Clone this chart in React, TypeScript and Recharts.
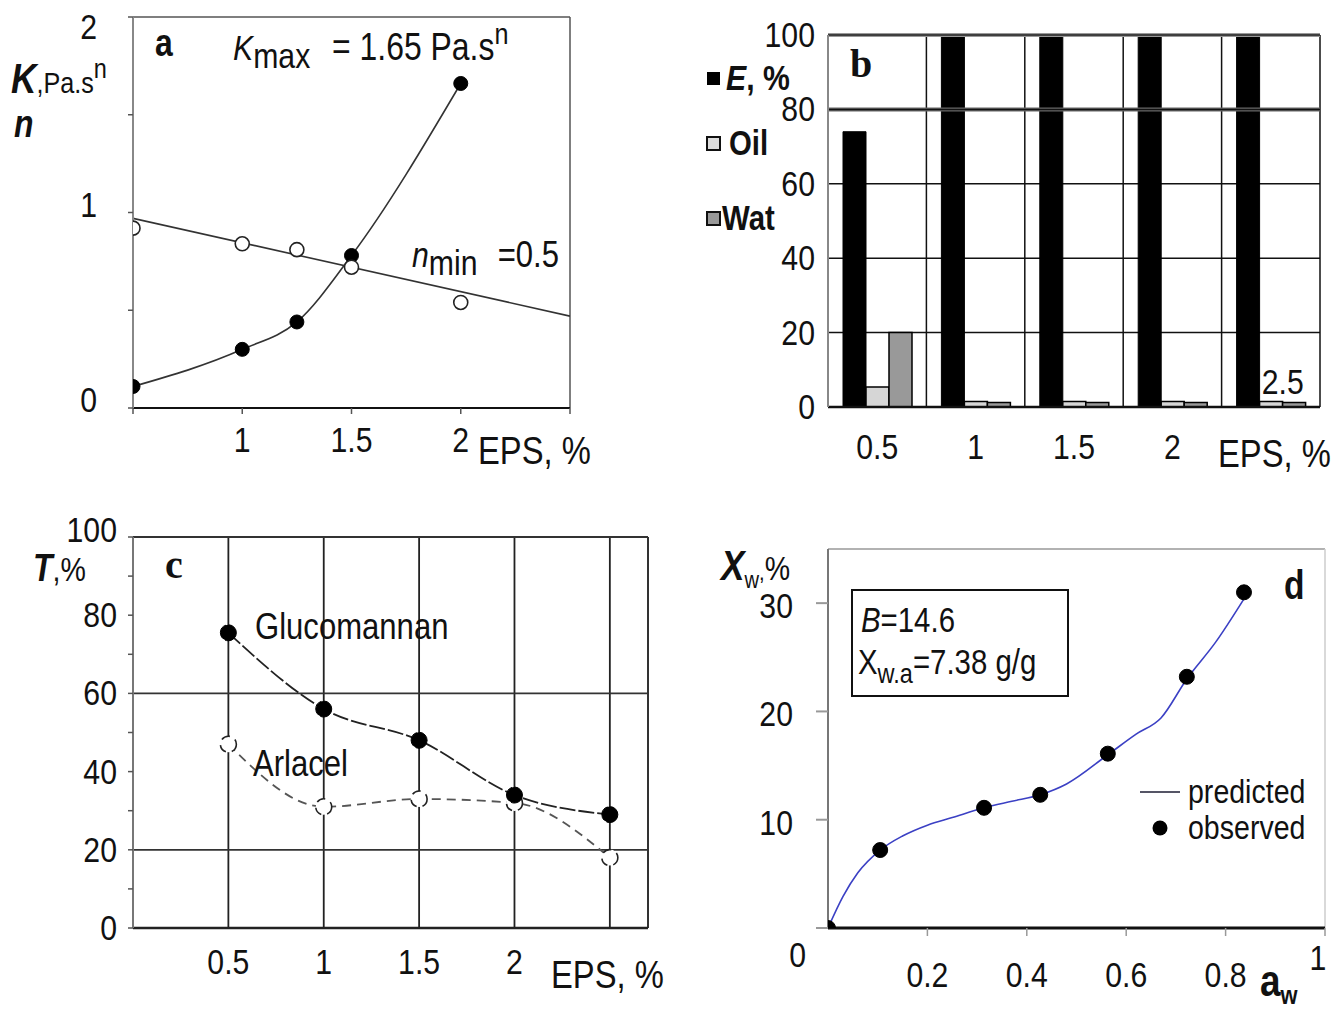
import React from 'react';
import {
  LineChart,
  Line,
  BarChart,
  Bar,
  XAxis,
  YAxis,
  CartesianGrid,
  ReferenceLine,
} from 'recharts';

const FONT = "'Liberation Sans', Arial, sans-serif";
const SERIF = "'Liberation Serif', 'DejaVu Serif', serif";
// the reference uses a narrow face, so text is squeezed horizontally
const SX = 0.84;

// a: consistency index K and flow index n against EPS %
const epsA = [0.5, 1, 1.25, 1.5, 2];
const kValues = [0.11, 0.3, 0.44, 0.78, 1.66];
const nValues = [0.92, 0.84, 0.81, 0.72, 0.54];
const nFitEps = [0.5, 2.5];
const nFitValues = [0.97, 0.47];
const ticksAX = [0.5, 1, 1.5, 2, 2.5];
const ticksAY = [0, 0.5, 1, 1.5, 2];

// b: emulsion stability
const epsB = ['0.5', '1', '1.5', '2', '2.5'];
const eValues = [74, 100, 100, 100, 100];
const oilValues = [5.4, 1.5, 1.5, 1.5, 1.5];
const watValues = [20, 1.2, 1.2, 1.2, 1.2];
const ticksBY = [0, 20, 40, 60, 80, 100];

// c: turbidity, glucomannan vs arlacel
const epsC = [0.5, 1, 1.5, 2, 2.5];
const glucoValues = [75.5, 56, 48, 34, 29];
const arlacelValues = [47, 31, 33, 32, 18];
const ticksCY = [0, 10, 20, 30, 40, 50, 60, 70, 80, 90, 100];

// d: sorption isotherm
const awObserved = [0, 0.105, 0.314, 0.427, 0.563, 0.722, 0.837];
const xwObserved = [0, 7.2, 11.1, 12.3, 16.1, 23.2, 31.0];
const awPredicted = [0, 0.03, 0.06, 0.105, 0.15, 0.2, 0.25, 0.314, 0.37, 0.427, 0.48, 0.563, 0.62, 0.67, 0.722, 0.78, 0.837];
const xwPredicted = [0, 2.9, 5.1, 7.2, 8.5, 9.5, 10.2, 11.1, 11.7, 12.3, 13.3, 16.0, 17.9, 19.4, 23.0, 26.4, 30.4];
const ticksDX = [0.2, 0.4, 0.6, 0.8, 1];
const ticksDY = [0, 10, 20, 30];

const dataKA = epsA.map((x, i) => ({ x, k: kValues[i] }));
const dataNA = epsA.map((x, i) => ({ x, n: nValues[i] }));
const dataFitA = nFitEps.map((x, i) => ({ x, fit: nFitValues[i] }));
const dataB = epsB.map((eps, i) => ({ eps, E: eValues[i], Oil: oilValues[i], Wat: watValues[i] }));
const dataC = epsC.map((x, i) => ({ x, gluco: glucoValues[i], arlacel: arlacelValues[i] }));
const dataObsD = awObserved.map((x, i) => ({ x, obs: xwObserved[i] }));
const dataPredD = awPredicted.map((x, i) => ({ x, pred: xwPredicted[i] }));

const TS = 36;

type TxtProps = {
  x: number;
  y: number;
  anchor?: string;
  size?: number;
  weight?: string;
  italic?: boolean;
  family?: string;
  children?: React.ReactNode;
};

const Txt = ({ x, y, anchor = 'start', size = TS, weight, italic, family, children }: TxtProps) => (
  <text
    transform={`translate(${x} ${y}) scale(${SX} 1)`}
    textAnchor={anchor}
    fontSize={size}
    fontWeight={weight}
    fontStyle={italic ? 'italic' : undefined}
    fontFamily={family || FONT}
    fill="#111"
  >
    {children}
  </text>
);

const label = (x: number, y: number, text: string, anchor: string) => (
  <Txt x={x} y={y} anchor={anchor}>{text}</Txt>
);

// tick renderers
const tickAX = (p: any) => {
  const v = p.payload.value;
  if (v === 0.5 || v === 2.5) return <g />;
  return label(p.x, p.y + 36, String(v), 'middle');
};
const tickAY = (p: any) => {
  const v = p.payload.value;
  if (v % 1 !== 0) return <g />;
  return label(p.x - 29, p.y + (v === 2 ? 22 : 4), String(v), 'end');
};
const tickBX = (p: any) => {
  const v = p.payload.value;
  if (v === '2.5') return label(p.x + 12, p.y - 13, v, 'middle');
  return label(p.x, p.y + 52, v, 'middle');
};
const tickBY = (p: any) => label(p.x - 13, p.y + 12, String(p.payload.value), 'end');
const tickCX = (p: any) => {
  const v = p.payload.value;
  if (v === 2.5) return <g />;
  return label(p.x, p.y + 46, String(v), 'middle');
};
const tickCY = (p: any) => {
  const v = p.payload.value;
  if (v % 20 !== 0) return <g />;
  return label(p.x - 9, p.y + (v === 100 ? 5 : 12), String(v), 'end');
};
const tickDX = (p: any) => {
  const v = p.payload.value;
  if (v === 1) return label(p.x - 7, p.y + 32, '1', 'middle');
  return label(p.x, p.y + 49, String(v), 'middle');
};
const tickDY = (p: any) => {
  const v = p.payload.value;
  if (v === 0) return label(p.x - 8, p.y + 39, '0', 'end');
  return label(p.x - 21, p.y + 15, String(v), 'end');
};

const filledDot = { r: 7, fill: '#000', stroke: '#000', strokeWidth: 1 };
const openDot = { r: 7, fill: '#fff', stroke: '#222', strokeWidth: 1.6 };

function PanelA() {
  return (
    <div style={{ position: 'absolute', left: 0, top: 0 }}>
      <LineChart width={600} height={480} margin={{ top: 17, right: 30, left: 0, bottom: 32 }}>
        <XAxis
          type="number"
          dataKey="x"
          domain={[0.5, 2.5]}
          ticks={ticksAX}
          allowDataOverflow
          height={40}
          axisLine={{ stroke: '#111', strokeWidth: 2 }}
          tickLine={{ stroke: '#555', strokeWidth: 1.5 }}
          tickSize={6}
          tickMargin={2}
          tick={tickAX}
        />
        <YAxis
          type="number"
          domain={[0, 2]}
          ticks={ticksAY}
          allowDataOverflow
          width={133}
          axisLine={{ stroke: '#888', strokeWidth: 2 }}
          tickLine={{ stroke: '#555', strokeWidth: 1.5 }}
          tickSize={5}
          tickMargin={2}
          tick={tickAY}
        />
        <ReferenceLine y={2} stroke="#555" strokeWidth={1.5} />
        <ReferenceLine x={2.5} stroke="#555" strokeWidth={1.5} />
        <Line data={dataFitA} dataKey="fit" type="linear" stroke="#333" strokeWidth={1.6} dot={false} isAnimationActive={false} />
        <Line data={dataKA} dataKey="k" type="monotone" stroke="#333" strokeWidth={1.6} dot={filledDot} isAnimationActive={false} />
        <Line data={dataNA} dataKey="n" stroke="none" dot={openDot} isAnimationActive={false} />
      </LineChart>
    </div>
  );
}

function PanelB() {
  return (
    <div style={{ position: 'absolute', left: 690, top: 0 }}>
      <BarChart
        width={643}
        height={480}
        data={dataB}
        margin={{ top: 35, right: 13, left: 0, bottom: 33 }}
        barGap={0}
        barSize={23}
      >
        <CartesianGrid
          stroke="#111"
          strokeWidth={1.5}
          verticalCoordinatesGenerator={({ offset }: any) =>
            epsB.map((_, i) => offset.left + ((i + 1) * offset.width) / epsB.length)
          }
        />
        <ReferenceLine y={80} stroke="#666" strokeWidth={4} />
        <ReferenceLine y={80} stroke="#111" strokeWidth={1.5} />
        <XAxis
          dataKey="eps"
          height={40}
          axisLine={{ stroke: '#111', strokeWidth: 2.5 }}
          tickLine={false}
          tickSize={0}
          tickMargin={0}
          tick={tickBX}
        />
        <YAxis
          type="number"
          domain={[0, 100]}
          ticks={ticksBY}
          width={138}
          axisLine={{ stroke: '#888', strokeWidth: 2 }}
          tickLine={false}
          tickSize={0}
          tickMargin={0}
          tick={tickBY}
        />
        <Bar dataKey="E" fill="#000" stroke="#000" isAnimationActive={false} />
        <Bar dataKey="Oil" fill="#d6d6d6" stroke="#000" strokeWidth={1.5} isAnimationActive={false} />
        <Bar dataKey="Wat" fill="#999" stroke="#000" strokeWidth={1.5} isAnimationActive={false} />
        <ReferenceLine y={100} stroke="#999" strokeWidth={4} />
        <ReferenceLine y={100} stroke="#222" strokeWidth={1.5} />
      </BarChart>
    </div>
  );
}

function PanelC() {
  return (
    <div style={{ position: 'absolute', left: 0, top: 500 }}>
      <LineChart width={670} height={511} data={dataC} margin={{ top: 37, right: 22, left: 0, bottom: 33 }}>
        <CartesianGrid horizontal={false} stroke="#222" strokeWidth={1.8} />
        <ReferenceLine y={20} stroke="#333" strokeWidth={1.8} />
        <ReferenceLine y={60} stroke="#333" strokeWidth={1.8} />
        <ReferenceLine y={100} stroke="#333" strokeWidth={1.8} />
        <ReferenceLine x={2.7} stroke="#333" strokeWidth={1.8} />
        <XAxis
          type="number"
          dataKey="x"
          domain={[0, 2.7]}
          ticks={epsC}
          allowDataOverflow
          height={50}
          axisLine={{ stroke: '#222', strokeWidth: 2.5 }}
          tickLine={false}
          tickSize={0}
          tickMargin={0}
          tick={tickCX}
        />
        <YAxis
          type="number"
          domain={[0, 100]}
          ticks={ticksCY}
          width={133}
          axisLine={{ stroke: '#777', strokeWidth: 2 }}
          tickLine={{ stroke: '#555', strokeWidth: 1.5 }}
          tickSize={5}
          tickMargin={2}
          tick={tickCY}
        />
        <Line dataKey="arlacel" type="monotone" stroke="#555" strokeWidth={1.8} strokeDasharray="9 6" dot={{ ...openDot, r: 8 }} isAnimationActive={false} />
        <Line dataKey="gluco" type="monotone" stroke="#222" strokeWidth={1.8} strokeDasharray="16 3" dot={{ ...filledDot, r: 8 }} isAnimationActive={false} />
      </LineChart>
    </div>
  );
}

function PanelD() {
  return (
    <div style={{ position: 'absolute', left: 690, top: 520 }}>
      <LineChart width={643} height={491} margin={{ top: 29, right: 8, left: 0, bottom: 33 }}>
        <ReferenceLine y={35} stroke="#999" strokeWidth={1.5} />
        <ReferenceLine x={1} stroke="#ccc" strokeWidth={1.5} />
        <XAxis
          type="number"
          dataKey="x"
          domain={[0, 1]}
          ticks={ticksDX}
          allowDataOverflow
          height={50}
          axisLine={{ stroke: '#111', strokeWidth: 3 }}
          tickLine={{ stroke: '#999', strokeWidth: 1.5 }}
          tickSize={8}
          tickMargin={2}
          tick={tickDX}
        />
        <YAxis
          type="number"
          domain={[0, 35]}
          ticks={ticksDY}
          allowDataOverflow
          width={138}
          axisLine={{ stroke: '#777', strokeWidth: 2 }}
          tickLine={{ stroke: '#999', strokeWidth: 2 }}
          tickSize={12}
          tickMargin={2}
          tick={tickDY}
        />
        <Line data={dataPredD} dataKey="pred" type="monotone" stroke="#3b40c4" strokeWidth={1.6} dot={false} isAnimationActive={false} />
        <Line data={dataObsD} dataKey="obs" stroke="none" dot={{ r: 7.5, fill: '#000', stroke: '#000' }} isAnimationActive={false} />
      </LineChart>
    </div>
  );
}

function Annotations() {
  return (
    <svg width={1333} height={1011} style={{ position: 'absolute', left: 0, top: 0, pointerEvents: 'none' }}>
      {/* panel a */}
      <Txt x={155} y={56} size={38} weight="bold">a</Txt>
      <Txt x={11} y={93} size={30}>
        <tspan fontSize={42} fontWeight="bold" fontStyle="italic">K</tspan>
        <tspan>,Pa.s</tspan>
        <tspan fontSize={28} dy={-15}>n</tspan>
      </Txt>
      <Txt x={14} y={137} size={38} weight="bold" italic>n</Txt>
      <Txt x={233} y={60} size={36}>
        <tspan fontStyle="italic">K</tspan>
        <tspan dy={8}>max</tspan>
        <tspan dx={26} dy={-8} fontSize={38}>= 1.65 Pa.s</tspan>
        <tspan fontSize={30} dy={-16}>n</tspan>
      </Txt>
      <Txt x={412} y={267} size={36}>
        <tspan fontStyle="italic">n</tspan>
        <tspan dy={8}>min</tspan>
        <tspan dx={24} dy={-8} fontSize={37}>=0.5</tspan>
      </Txt>
      <Txt x={478} y={464} size={39}>EPS, %</Txt>

      {/* panel b */}
      <text x={850} y={77} fontSize={40} fontWeight="bold" fontFamily={SERIF} fill="#111">b</text>
      <rect x={707} y={72} width={13} height={13} fill="#000" />
      <Txt x={726} y={90} size={36} weight="bold">
        <tspan fontStyle="italic">E</tspan>, %
      </Txt>
      <rect x={707} y={137} width={13} height={13} fill="#ddd" stroke="#111" strokeWidth={2} />
      <Txt x={729} y={155} size={35} weight="bold">Oil</Txt>
      <rect x={707} y={212} width={13} height={13} fill="#999" stroke="#111" strokeWidth={2} />
      <Txt x={722} y={230} size={35} weight="bold">Wat</Txt>
      <Txt x={1218} y={467} size={39}>EPS, %</Txt>

      {/* panel c */}
      <Txt x={33} y={581} size={34}>
        <tspan fontSize={38} fontWeight="bold" fontStyle="italic">T</tspan>
        <tspan>,%</tspan>
      </Txt>
      <text x={165} y={578} fontSize={40} fontWeight="bold" fontFamily={SERIF} fill="#111">c</text>
      <Txt x={255} y={639} size={37}>Glucomannan</Txt>
      <Txt x={253} y={776} size={37}>Arlacel</Txt>
      <Txt x={551} y={988} size={39}>EPS, %</Txt>

      {/* panel d */}
      <Txt x={721} y={580} size={34}>
        <tspan fontSize={42} fontWeight="bold" fontStyle="italic">X</tspan>
        <tspan fontSize={24} dy={8}>w</tspan>
        <tspan fontSize={24} dy={-8}>,</tspan>
        <tspan>%</tspan>
      </Txt>
      <Txt x={1284} y={599} size={40} weight="bold">d</Txt>
      <rect x={852} y={590} width={216} height={106} fill="#fff" stroke="#111" strokeWidth={2} />
      <Txt x={861} y={632} size={35}>
        <tspan fontStyle="italic">B</tspan>=14.6
      </Txt>
      <Txt x={858} y={674} size={35}>
        X<tspan fontSize={28} dy={9}>w.a</tspan>
        <tspan dy={-9}>=7.38 g/g</tspan>
      </Txt>
      <line x1={1140} y1={792} x2={1180} y2={792} stroke="#556" strokeWidth={2} />
      <Txt x={1188} y={803} size={34}>predicted</Txt>
      <circle cx={1160} cy={828} r={7.5} fill="#000" />
      <Txt x={1188} y={839} size={34}>observed</Txt>
      <Txt x={1260} y={996} size={44} weight="bold">
        a<tspan fontSize={26} dy={8}>w</tspan>
      </Txt>
    </svg>
  );
}

export default function App() {
  return (
    <div style={{ position: 'absolute', left: 0, top: 0, width: 1333, height: 1011, background: '#fff' }}>
      <PanelA />
      <PanelB />
      <PanelC />
      <PanelD />
      <Annotations />
    </div>
  );
}
